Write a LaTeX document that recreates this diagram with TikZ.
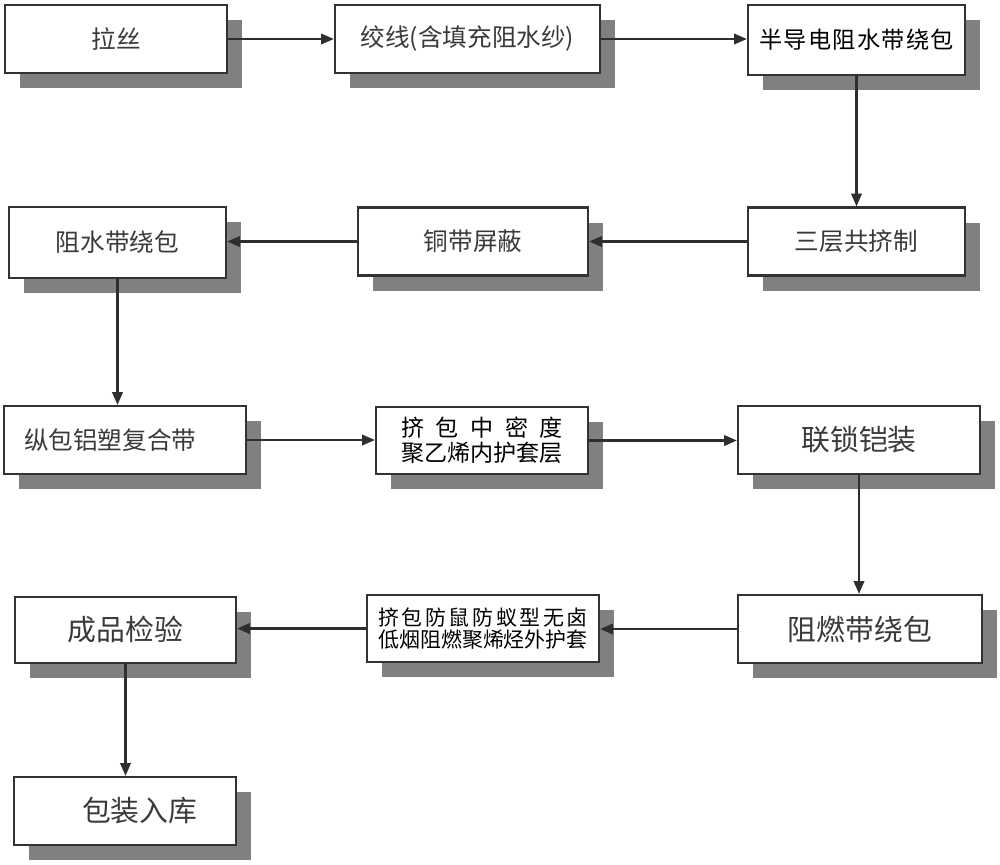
\documentclass[tikz,border=0pt]{standalone}
\usepackage{fontspec}
\usepackage{tikz}
\usepackage{xcolor}
\usetikzlibrary{arrows.meta,positioning,shadows}
\newfontfamily\cjk{Noto Sans CJK SC}
\definecolor{boxline}{HTML}{333333}
\definecolor{labelgray}{HTML}{3A3A3A}
\definecolor{shadegray}{HTML}{808080}
\definecolor{arrowgray}{HTML}{2E2E2E}
\tikzset{
  stepbox/.style={draw=boxline,fill=white,line width=1.5pt,
                  minimum height=1.7cm,inner sep=2pt,align=center,
                  text=labelgray,font=\cjk\fontsize{17.5}{21}\selectfont,
                  drop shadow={shadow xshift=0.375cm,shadow yshift=-0.375cm,
                               fill=shadegray,opacity=1}},
  bigstep/.style={stepbox,font=\cjk\fontsize{20.5}{24}\selectfont},
  notestep/.style={stepbox,text=black},
  flowarr/.style={-{Triangle[length=3.2mm,width=2.6mm]},line width=1.6pt,
                  draw=arrowgray}
}

\begin{document}
\begin{tikzpicture}[x=0.025cm,y=-0.025cm]
    \path[use as bounding box] (0,0) rectangle (1000,864);

    % row 1
    \node[stepbox,minimum width=5.55cm] (lasi) at (116,39) {拉丝};
    \node[stepbox,minimum width=6.625cm] (jiaoxian) at (467.5,39)
      {绞线(含填充阻水纱)};
    \node[notestep,minimum width=5.425cm,minimum height=1.75cm,
          font=\cjk\fontsize{16.5}{20}\selectfont] (bandao) at (856.5,40)
      {\makebox[8.4em]{半\hfill 导\hfill 电\hfill 阻\hfill 水\hfill 带\hfill
       绕\hfill 包}};
    % row 2
    \node[stepbox,minimum width=5.425cm] (sanceng) at (856.5,241.5)
      {三层共挤制};
    \node[stepbox,minimum width=5.75cm] (tongdai) at (473,241.5)
      {铜带屏蔽};
    \node[stepbox,minimum width=5.425cm,minimum height=1.77cm] (zushui)
      at (117.5,242.5) {阻水带绕包};
    % row 3
    \node[stepbox,minimum width=6.05cm] (zongbao) at (125,440)
      {纵包铝塑复合带\hspace*{21pt}};
    \node[notestep,minimum width=5.3cm,minimum height=1.67cm,
          font=\cjk\fontsize{16.4}{17.8}\selectfont] (neihu) at (482,440.5)
      {\makebox[7em]{挤\hfill 包\hfill 中\hfill 密\hfill 度}\\聚乙烯内护套层};
    \node[bigstep,minimum width=6.05cm] (liansuo) at (859,440)
      {联锁铠装};
    % row 4
    \node[bigstep,minimum width=6.1cm] (zuran) at (860,629)
      {阻燃带绕包};
    \node[notestep,minimum width=5.8cm,minimum height=1.67cm,
          font=\cjk\fontsize{14.9}{15.6}\selectfont] (waihu) at (483,628.5)
      {\makebox[10em]{挤\hfill 包\hfill 防\hfill 鼠\hfill 防\hfill 蚁\hfill
       型\hfill 无\hfill 卤}\\低烟阻燃聚烯烃外护套};
    \node[bigstep,minimum width=5.525cm,minimum height=1.65cm] (jianyan)
      at (125.5,630) {成品检验};
    % row 5
    \node[bigstep,minimum width=5.55cm] (baozhuang) at (125,811)
      {\hspace*{21pt}包装入库};

    \draw[flowarr] (lasi.east) -- (lasi.east -| jiaoxian.west);
    \draw[flowarr] (jiaoxian.east) -- (jiaoxian.east -| bandao.west);
    \draw[flowarr] (bandao.south) -- (bandao.south |- sanceng.north);
    \draw[flowarr] (sanceng.west) -- (sanceng.west -| tongdai.east);
    \draw[flowarr] (tongdai.west) -- (tongdai.west -| zushui.east);
    \draw[flowarr] (zushui.south) -- (zushui.south |- zongbao.north);
    \draw[flowarr] (zongbao.east) -- (zongbao.east -| neihu.west);
    \draw[flowarr] (neihu.east) -- (neihu.east -| liansuo.west);
    \draw[flowarr] (liansuo.south) -- (liansuo.south |- zuran.north);
    \draw[flowarr] (zuran.west) -- (zuran.west -| waihu.east);
    \draw[flowarr] (waihu.west) -- (waihu.west -| jianyan.east);
    \draw[flowarr] (jianyan.south) -- (jianyan.south |- baozhuang.north);
  \end{tikzpicture}
\end{document}
